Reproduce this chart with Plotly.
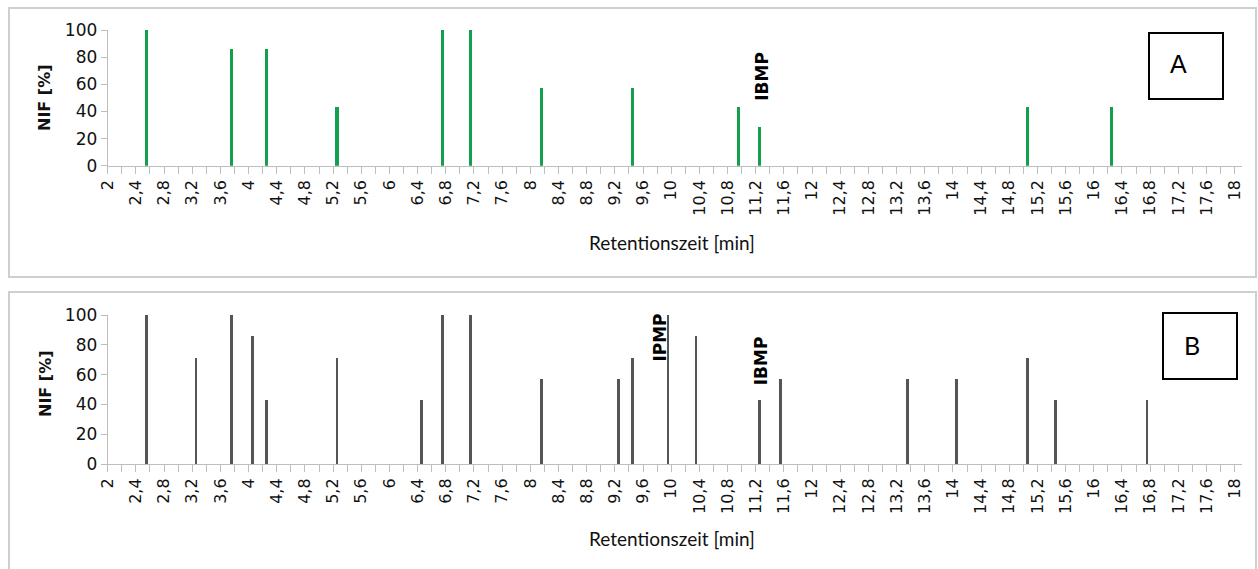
import plotly.graph_objects as go

# ---------------- data ----------------
tick_labels = ["2", "2,4", "2,8", "3,2", "3,6", "4", "4,4", "4,8", "5,2", "5,6", "6",
               "6,4", "6,8", "7,2", "7,6", "8", "8,4", "8,8", "9,2", "9,6", "10",
               "10,4", "10,8", "11,2", "11,6", "12", "12,4", "12,8", "13,2", "13,6", "14",
               "14,4", "14,8", "15,2", "15,6", "16", "16,4", "16,8", "17,2", "17,6", "18"]

ret_A = [2.5, 3.7, 4.2, 5.2, 6.7, 7.1, 8.1, 9.4, 10.9, 11.2, 15.0, 16.2]
nif_A = [100, 85.7, 85.7, 42.9, 100, 100, 57.1, 57.1, 42.9, 28.6, 42.9, 42.9]

ret_B = [2.5, 3.2, 3.7, 4.0, 4.2, 5.2, 6.4, 6.7, 7.1, 8.1, 9.2, 9.4, 9.9, 10.3,
         11.2, 11.5, 13.3, 14.0, 15.0, 15.4, 16.7]
nif_B = [100, 71.4, 100, 85.7, 42.9, 71.4, 42.9, 100, 100, 57.1, 57.1, 71.4, 100, 85.7,
         42.9, 57.1, 57.1, 57.1, 71.4, 42.9, 42.9]

compounds_A = [("IBMP", 11.2, 65.7, 2)]
compounds_B = [("IPMP", 9.9, 84.6, -8), ("IBMP", 11.2, 69.1, 2)]

W, H = 1258, 569
GREEN = "#12a04c"
GREY_BAR = "#555555"
AX = "#bdbdbd"
TXT = "#111111"


def px(x):
    return x / W


def py(y):
    return 1 - y / H


# Excel-like category axis: the tick (and its label) sits on the category boundary,
# half a category step (0.05 min) before the category value.
half = 0.05
tickvals, ticktext = [], []
for i, lab in enumerate(tick_labels):
    v = float(lab.replace(",", ".")) - half
    tickvals.append(v)
    ticktext.append(lab)
    if i < len(tick_labels) - 1:
        tickvals.append(v + 0.2)
        ticktext.append("")

fig = go.Figure()
fig.add_trace(go.Bar(x=ret_A, y=nif_A, width=0.045, marker=dict(color=GREEN, line=dict(width=0)),
                     xaxis="x", yaxis="y", showlegend=False))
fig.add_trace(go.Bar(x=ret_B, y=nif_B, width=0.038, marker=dict(color=GREY_BAR, line=dict(width=0)),
                     xaxis="x2", yaxis="y2", showlegend=False))

xdom = [px(107.7), px(1241.7)]
xcommon = dict(range=[1.95, 18.05], tickmode="array", tickvals=tickvals, ticktext=ticktext,
               tickangle=-90, ticks="outside", ticklen=7, tickcolor=AX, tickwidth=1,
               showline=True, linecolor=AX, linewidth=1, showgrid=False, zeroline=False,
               tickfont=dict(family="DejaVu Sans", size=16, color=TXT), domain=xdom, fixedrange=True)
ycommon = dict(range=[0, 100], tickmode="array", tickvals=[0, 20, 40, 60, 80, 100],
               ticks="outside", ticklen=6, tickcolor=AX, showline=True, linecolor=AX, linewidth=1,
               showgrid=False, zeroline=False,
               tickfont=dict(family="DejaVu Sans", size=17, color=TXT), fixedrange=True)

fig.update_layout(
    width=W, height=H, margin=dict(l=0, r=0, t=0, b=0, autoexpand=False),
    paper_bgcolor="white", plot_bgcolor="white", bargap=0,
    xaxis=dict(**xcommon, anchor="y"),
    yaxis=dict(**ycommon, anchor="x", domain=[py(165.7), py(30)]),
    xaxis2=dict(**xcommon, anchor="y2"),
    yaxis2=dict(**ycommon, anchor="x2", domain=[py(464), py(315)]),
)

shapes = [
    dict(type="rect", xref="paper", yref="paper", x0=px(9), x1=px(1256), y0=py(277), y1=py(8),
         line=dict(color="#cfcfcf", width=2)),
    dict(type="rect", xref="paper", yref="paper", x0=px(9), x1=px(1256), y0=py(585), y1=py(292),
         line=dict(color="#cfcfcf", width=2)),
    dict(type="rect", xref="paper", yref="paper", x0=px(1149), x1=px(1223), y0=py(99), y1=py(33),
         line=dict(color="black", width=2)),
    dict(type="rect", xref="paper", yref="paper", x0=px(1163), x1=px(1237), y0=py(379), y1=py(313),
         line=dict(color="black", width=2)),
]

ann = []
for ytxt, ytitle in [(242, 98), (538, 384)]:
    ann.append(dict(text="Retentionszeit [min]", xref="paper", yref="paper", x=px(672), y=py(ytxt),
                    showarrow=False, xanchor="center", yanchor="middle",
                    font=dict(family="Lato", size=19, color=TXT)))
    ann.append(dict(text="<b>NIF [%]</b>", xref="paper", yref="paper", x=px(45), y=py(ytitle),
                    showarrow=False, textangle=-90, xanchor="center", yanchor="middle",
                    font=dict(family="DejaVu Sans", size=16, color=TXT)))
ann.append(dict(text="A", xref="paper", yref="paper", x=px(1178), y=py(64), showarrow=False,
                xanchor="center", yanchor="middle", font=dict(family="Liberation Sans", size=25, color="black")))
ann.append(dict(text="B", xref="paper", yref="paper", x=px(1192), y=py(345), showarrow=False,
                xanchor="center", yanchor="middle", font=dict(family="Lato", size=25, color="black")))
for name, xv, yv, sh in compounds_A:
    ann.append(dict(text="<b>%s</b>" % name, xref="x", yref="y", x=xv, y=yv, xshift=sh, showarrow=False,
                    textangle=-90, font=dict(family="DejaVu Sans", size=17, color="black")))
for name, xv, yv, sh in compounds_B:
    ann.append(dict(text="<b>%s</b>" % name, xref="x2", yref="y2", x=xv, y=yv, xshift=sh, showarrow=False,
                    textangle=-90, font=dict(family="DejaVu Sans", size=17, color="black")))

fig.update_layout(shapes=shapes, annotations=ann)
fig.write_html("out.html", post_script="document.body.style.margin='0';")
